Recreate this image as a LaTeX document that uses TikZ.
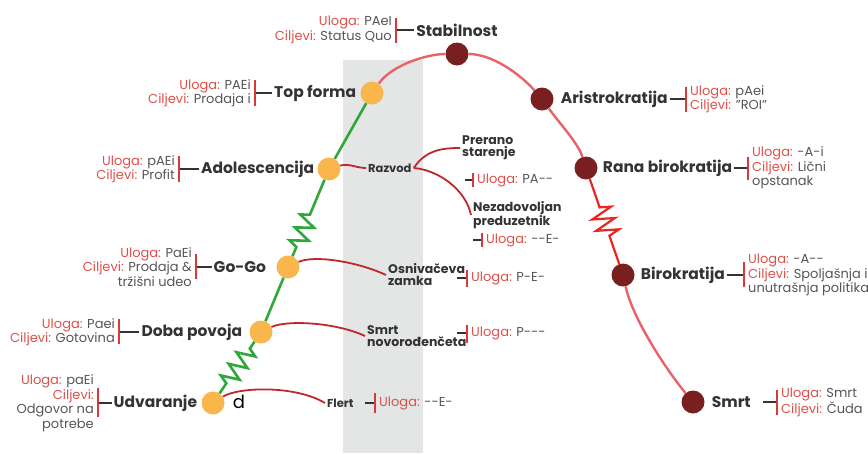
\documentclass[tikz,border=0pt]{standalone}
\usepackage{fontspec}
\setmainfont{Poppins}
\usetikzlibrary{positioning,decorations.pathmorphing}

\definecolor{ulred}{HTML}{DF5048}
\definecolor{valgray}{HTML}{555555}
\definecolor{labdark}{HTML}{333333}
\definecolor{barred}{HTML}{D83A3A}
\definecolor{trapred}{HTML}{BF272D}
\definecolor{growgreen}{HTML}{2EA838}
\definecolor{agepink}{HTML}{E8626A}
\definecolor{zigred}{HTML}{E8281E}
\definecolor{dotyellow}{HTML}{F8B64C}
\definecolor{dotbrown}{HTML}{7A1F1F}
\definecolor{bandgray}{HTML}{E3E6E5}

\newcommand{\uloga}[1]{{\color{ulred}Uloga:} #1}
\newcommand{\ciljevi}[1]{{\color{ulred}Ciljevi:} #1}

\begin{document}
\begin{tikzpicture}[x=1pt, y=-1pt,
		youngdot/.style={circle, fill=dotyellow, minimum size=23pt, inner sep=0pt},
		olddot/.style={circle, fill=dotbrown, minimum size=23pt, inner sep=0pt},
		stage/.style={font=\fontsize{15.5}{17}\selectfont\bfseries, text=labdark, inner sep=2pt},
		annl/.style={font=\fontsize{13}{14.5}\selectfont, text=valgray, align=right, anchor=east, inner sep=0pt},
		annr/.style={font=\fontsize{13}{14.5}\selectfont, text=valgray, align=left, anchor=west, inner sep=0pt},
		trap/.style={font=\fontsize{12.5}{12}\selectfont\bfseries, text=labdark, align=left, anchor=west, inner sep=2pt},
		stemline/.style={labdark, line width=1.4pt},
		redbar/.style={barred, line width=1.8pt},
		growline/.style={growgreen, line width=2.6pt},
		ageline/.style={agepink, line width=2.4pt},
		trapline/.style={trapred, line width=1.8pt},
		zz/.style n args={2}{decorate, decoration={zigzag, segment length=14pt, amplitude=9pt, pre length=#1, post length=#2}}]
		\useasboundingbox (0,0) rectangle (868,453);
		
		% Gray band
		\fill[bandgray] (343,60) rectangle (423,453);
		
		% Young stages
		\node[youngdot] (udv) at (213,403) {};
		\node[youngdot] (dob) at (261,332) {};
		\node[youngdot] (gog) at (288,267) {};
		\node[youngdot] (ado) at (329,169) {};
		\node[youngdot] (top) at (372,93) {};
		
		% Old stages
		\node[olddot] (stab) at (457,54) {};
		\node[olddot] (aris) at (542,99) {};
		\node[olddot] (rana) at (586,168) {};
		\node[olddot] (biro) at (623,275) {};
		\node[olddot] (smrt) at (693,402) {};
		
		% Life curve
		\draw[growline, zz={12pt}{7pt}] (udv) -- (dob);
		\draw[growline] (dob) -- (gog);
		\draw[growline, zz={10pt}{32pt}] (gog) -- (ado);
		\draw[growline] (ado) -- (top);
		\draw[ageline] (top) .. controls +(20,-28) and +(-30,0) .. (stab);
		\draw[ageline] (stab) .. controls +(35,0) and +(-22,-25) .. (aris);
		\draw[ageline] (aris) .. controls +(18,25) and +(-8,-25) .. (rana);
		\draw[zigred, line width=2.2pt, decorate, decoration={zigzag, segment length=12pt, amplitude=11pt, pre length=30pt, post length=28pt}] (rana) -- (biro);
		\draw[ageline] (biro) .. controls +(10,45) and +(-25,-30) .. (smrt);
		
		% Stage labels
		\node[stage, left=2pt of top] (lbl-top) {Top forma};
		\node[stage] (lbl-stab) at (457,30) {Stabilnost};
		\node[stage, left=1pt of ado] (lbl-ado) {Adolescencija};
		\node[stage, left=8pt of gog] (lbl-gog) {Go-Go};
		\node[stage, left=5pt of dob] (lbl-dob) {Doba povoja};
		\node[stage, left=2pt of udv] (lbl-udv) {Udvaranje};
		\node[stage, right=5pt of aris] (lbl-aris) {Aristrokratija};
		\node[stage, right=3pt of rana] (lbl-rana) {Rana birokratija};
		\node[stage, right=4pt of biro] (lbl-biro) {Birokratija};
		\node[stage, right=5pt of smrt] (lbl-smrt) {Smrt};
		\node[font=\fontsize{18}{18}\selectfont, text=black, inner sep=0pt] (dstray) at (239,402) {d};
		
		% Left roles and goals
		\coordinate (b-top) at (255,93);
		\draw[stemline] (lbl-top.west) -- (b-top);
		\draw[redbar] (b-top) +(0,-13) -- +(0,13);
		\node[annl] (a-top) at ([xshift=-4pt]b-top) {\uloga{PAEi}\\\ciljevi{Prodaja i}};
		
		\coordinate (b-stab) at (396,30);
		\draw[stemline] (lbl-stab.west) -- (b-stab);
		\draw[redbar] (b-stab) +(0,-12.5) -- +(0,12.5);
		\node[annl] (a-stab) at ([xshift=-4pt]b-stab) {\uloga{PAeI}\\\ciljevi{Status Quo}};
		
		\coordinate (b-ado) at (179,169);
		\draw[stemline] (lbl-ado.west) -- (b-ado);
		\draw[redbar] (b-ado) +(0,-13) -- +(0,13);
		\node[annl] (a-ado) at ([xshift=-4pt]b-ado) {\uloga{pAEi}\\\ciljevi{Profit}};
		
		\coordinate (b-gog) at (196,267);
		\draw[stemline] (lbl-gog.west) -- (b-gog);
		\draw[redbar] (b-gog) +(0,-13) -- +(0,12);
		\node[annl] (a-gog) at ([xshift=-4pt]b-gog) {\uloga{PaEi}\\\ciljevi{Prodaja \&}\\tržišni udeo};
		
		\coordinate (b-dob) at (119,332);
		\draw[stemline] (lbl-dob.west) -- (b-dob);
		\draw[redbar] (b-dob) +(0,-13) -- +(0,12);
		\node[annl] (a-dob) at ([xshift=-4pt]b-dob) {\uloga{Paei}\\\ciljevi{Gotovina}};
		
		\coordinate (b-udv) at (98,403);
		\draw[stemline] (lbl-udv.west) -- (b-udv);
		\draw[redbar] (b-udv) +(0,-15) -- +(0,14);
		\node[annl] (a-udv) at ([xshift=-4pt]b-udv) {\uloga{paEi}\\\ciljevi{}\\Odgovor na\\potrebe};
		
		% Right roles and goals
		\coordinate (b-aris) at (686,99);
		\draw[stemline] (lbl-aris.east) -- (b-aris);
		\draw[redbar] (b-aris) +(0,-12.5) -- +(0,12.5);
		\node[annr] (a-aris) at ([xshift=4pt]b-aris) {\uloga{pAei}\\\ciljevi{"ROI"}};
		
		\coordinate (b-rana) at (748,168);
		\draw[stemline] (lbl-rana.east) -- (b-rana);
		\draw[redbar] (b-rana) +(0,-11.5) -- +(0,11.5);
		\node[annr] (a-rana) at ([xshift=4pt]b-rana) {\uloga{-A-i}\\\ciljevi{Lični}\\opstanak};
		
		\coordinate (b-biro) at (744,275);
		\draw[stemline] (lbl-biro.east) -- (b-biro);
		\draw[redbar] (b-biro) +(0,-13) -- +(0,12);
		\node[annr] (a-biro) at ([xshift=4pt]b-biro) {\uloga{-A-{}-}\\\ciljevi{Spoljašnja i}\\unutrašnja politika};
		
		\coordinate (b-smrt) at (777,402);
		\draw[stemline, shorten <=10pt] (lbl-smrt.east) -- (b-smrt);
		\draw[redbar] (b-smrt) +(0,-12.5) -- +(0,12.5);
		\node[annr] (a-smrt) at ([xshift=4pt]b-smrt) {\uloga{Smrt}\\\ciljevi{Čuda}};
		
		% Traps
		\node[trap, font=\fontsize{11.5}{12}\selectfont\bfseries] (razvod) at (366,168) {Razvod};
		\node[trap] (prerano) at (460,148) {Prerano\\starenje};
		\node[trap] (nezad) at (471,215) {Nezadovoljan\\preduzetnik};
		\node[trap] (osniv) at (386,275) {Osnivačeva\\zamka};
		\node[trap] (smrtnov) at (365,336) {Smrt\\novorođenčeta};
		\node[trap, font=\fontsize{11.5}{12}\selectfont\bfseries] (flert) at (325,403) {Flert};
		
		\draw[trapline] (ado) .. controls +(20,-6) and +(-10,0) .. (razvod.west);
		\draw[trapline] (razvod.east) .. controls +(12,-18) and +(-18,0) .. (prerano.west);
		\draw[trapline] (razvod.east) .. controls +(25,2) and +(-5,-25) .. (nezad.west);
		\draw[trapline] (gog) .. controls +(25,-12) and +(-30,-14) .. (osniv.west);
		\draw[trapline] (dob) .. controls +(25,-12) and +(-30,-14) .. (smrtnov.west);
		\draw[trapline] (udv) .. controls +(25,-16) and +(-30,-18) .. (flert.west);
		
		% Trap roles
		\coordinate (s-prerano) at (465,180);
		\coordinate (b-prerano) at (473,180);
		\draw[stemline] (s-prerano) -- (b-prerano);
		\draw[redbar] (b-prerano) +(0,-7) -- +(0,7);
		\node[annr] (u-prerano) at ([xshift=4pt]b-prerano) {\uloga{PA-{}-}};
		
		\coordinate (s-nezad) at (473,240);
		\coordinate (b-nezad) at (482,240);
		\draw[stemline] (s-nezad) -- (b-nezad);
		\draw[redbar] (b-nezad) +(0,-7) -- +(0,7);
		\node[annr] (u-nezad) at ([xshift=4pt]b-nezad) {\uloga{-{}-E-}};
		
		\coordinate (s-osniv) at (457,278);
		\coordinate (b-osniv) at (467,278);
		\draw[stemline] (s-osniv) -- (b-osniv);
		\draw[redbar] (b-osniv) +(0,-8) -- +(0,9);
		\node[annr] (u-osniv) at ([xshift=4pt]b-osniv) {\uloga{P-E-}};
		
		\coordinate (s-smrtnov) at (457,333);
		\coordinate (b-smrtnov) at (467,333);
		\draw[stemline] (s-smrtnov) -- (b-smrtnov);
		\draw[redbar] (b-smrtnov) +(0,-8) -- +(0,10);
		\node[annr] (u-smrtnov) at ([xshift=4pt]b-smrtnov) {\uloga{P-{}-{}-}};
		
		\coordinate (s-flert) at (365,403);
		\coordinate (b-flert) at (375,403);
		\draw[stemline] (s-flert) -- (b-flert);
		\draw[redbar] (b-flert) +(0,-10) -- +(0,10);
		\node[annr] (u-flert) at ([xshift=4pt]b-flert) {\uloga{-{}-E-}};
	\end{tikzpicture}
\end{document}
